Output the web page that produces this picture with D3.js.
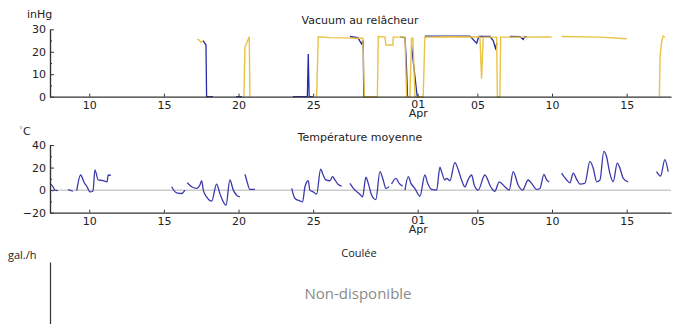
<!DOCTYPE html>
<html>
<head>
<meta charset="utf-8">
<title>Vacuum et température</title>
<script src="https://cdn.jsdelivr.net/npm/d3@7"></script>
<style>
	body { margin:0; background:#ffffff; }
	svg { display:block; }
	.tick text { font-family:"DejaVu Sans", sans-serif; font-size:11px; fill:#222; }
	.domain { stroke:#333; stroke-width:1.2; }
	.tick line { stroke:#333; }
	.title { font-family:"DejaVu Sans", sans-serif; font-size:11px; fill:#222; text-anchor:middle; }
	.unit { font-family:"DejaVu Sans", sans-serif; font-size:11px; fill:#222; }
	.vacblue { fill:none; stroke:#2a2aa8; stroke-width:1.3; }
	.vacgold { fill:none; stroke:#e8c03a; stroke-width:1.4; opacity:0.95; }
	.templine { fill:none; stroke:#3a3aac; stroke-width:1.3; }
	.zeroline { stroke:#cccccc; stroke-width:1.5; }
	.na { font-family:"Open Sans", sans-serif; font-size:15px; fill:#8a8a8a; text-anchor:middle; }
	.small { font-family:"Open Sans", sans-serif; font-size:11px; fill:#222; }
</style>
</head>
<body>
<div class="chart"></div>
<script>
// days are counted from March 1st (day 1); April 1st = day 32
var xDomainDays = [7.37, 48.97];
var tickDays = [10, 15, 20, 25, 32, 36, 41, 46];

// vacuum (inHg), blue sensor, segments of [day, value]
var vacuumBlue = [
	[[17.62,25],[17.82,23],[17.86,0],[18.29,0]],
	[[19.83,0],[20.23,0]],
	[[23.64,0],[24.61,0],[24.67,19],[24.73,0],[24.98,0]],
	[[27.46,26.8],[27.99,26.3],[28.24,23.5],[28.35,25],[28.39,0],[29.26,0]],
	[[30.83,26.5],[31.15,26.3],[31.22,18],[31.29,6],[31.32,0]],
	[[31.58,23],[31.97,0],[32.35,0]],
	[[32.48,27],[35.50,27],[35.95,23.8],[36.10,26.8],[36.84,26.8],[37.06,25],[37.21,21.5],[37.31,24]],
	[[38.18,26.8],[38.85,26.7],[39.07,25.5],[39.18,26.7],[39.32,26.7]]
];

// vacuum (inHg), gold sensor
var vacuumGold = [
	[[17.23,25.5],[17.35,25.3],[17.48,24.2],[17.62,24.8]],
	[[20.36,0],[20.43,22],[20.58,24.5],[20.72,26.7],[20.76,0]],
	[[25.23,0],[25.34,26.7],[26.12,26.3],[27.13,26.2],[27.80,26],[28.33,26],[28.43,0],[29.30,0],
	 [29.36,26.8],[29.81,26.5],[29.87,23],[30.34,23],[30.36,26.5],[31.15,26.5],[31.26,0],[31.48,0],
	 [31.59,26],[31.68,26],[31.82,0],[32.37,0],[32.48,26.5],[34.16,26.7],[36.17,26.6],[36.28,8],
	 [36.39,26.5],[37.29,26.5],[37.34,0],[37.51,0],[37.56,26.5],[40.97,26.6]],
	[[41.64,26.8],[44.21,26.5],[46.00,25.8]],
	[[48.19,0],[48.24,18],[48.33,24],[48.44,27],[48.56,26.5]]
];

// mean temperature (°C)
var temperature = [
	[[7.37,6],[7.57,3],[7.70,0],[7.90,-0.5]],
	[[8.59,0.5],[8.91,-1]],
	[[9.16,-0.5],[9.42,13.4],[9.65,7],[9.85,3],[10.05,-1.5],[10.25,-1],[10.38,18],[10.60,9],
	 [10.92,8.5],[11.19,7.4],[11.27,13.4],[11.45,13]],
	[[15.52,3],[15.85,-2.4],[16.19,-3],[16.41,0]],
	[[16.56,6.5],[16.86,3],[17.19,1.5],[17.41,4.5],[17.53,8.3],[17.64,0],[17.86,-6],[18.20,-9.8],
	 [18.53,5.4],[18.75,-3],[19.16,-13.4],[19.42,9],[19.65,0],[19.87,-4.5],[20.09,-6]],
	[[20.43,14],[20.54,9],[20.76,0.6],[21.10,0.6]],
	[[23.56,1.5],[23.78,-7.4],[24.11,-9.5],[24.29,-10.4],[24.45,3],[24.67,8.3],[24.78,0],[25.00,-1.5],
	 [25.23,-3.6],[25.50,18.5],[25.67,13.4],[25.85,9],[26.12,8.3],[26.30,12],[26.46,9],[26.68,5],[26.91,3.6]],
	[[27.46,6],[27.80,0],[28.13,-3.6],[28.31,-6],[28.53,11.4],[28.69,6],[28.92,-4.5],[29.20,-8.3],
	 [29.47,16.4],[29.69,9],[29.87,1.5],[30.09,3]],
	[[30.25,5.4],[30.54,10.5],[30.76,6],[30.99,3.6]],
	[[31.15,0],[31.37,12],[31.55,6],[31.81,1.5],[32.15,-5.4],[32.48,13.4],[32.67,6],[32.93,0.6],
	 [33.27,0],[33.49,20.3],[33.60,16.4],[33.82,9],[33.94,10.5],[34.16,8.3],[34.49,24.4],[34.72,18],
	 [34.94,9],[35.16,3],[35.39,9.6],[35.61,13.4],[35.79,4.5],[36.05,0],[36.50,13.4],[36.89,3],
	 [37.17,-1],[37.46,7.4],[37.84,3],[38.13,0],[38.40,16.4],[38.73,4.5],[39.03,0],[39.40,9],
	 [39.63,6],[39.97,0.6],[40.19,1.5],[40.46,14],[40.64,9],[40.81,7.4]],
	[[41.64,15],[41.98,9],[42.20,6.5],[42.42,15],[42.65,9.6],[42.87,5.4],[43.20,6],[43.54,25.4],
	 [43.76,19.4],[43.99,7.4],[44.21,9],[44.47,34.3],[44.65,29.8],[44.87,15],[45.10,7.4],[45.37,24],
	 [45.55,19.4],[45.77,10.5],[46.10,7.4]],
	[[48.00,16.4],[48.27,12.5],[48.56,27],[48.78,16.4]]
];

var vacuumTicks = [0, 10, 20, 30];
var vacuumMinor = [5, 15, 25];
var tempTicks = [-20, 0, 20, 40];
var tempMinor = [-10, 10, 30];

(function() {
	var W = 679, H = 324;
	var left = 50, right = 671;

	var dayToDate = function(d) {
		return new Date(Date.UTC(2014, 2, 1) + (d - 1) * 86400000);
	};

	var svg = d3.select(".chart").append("svg")
		.attr("width", W)
		.attr("height", H);

	var x = d3.scaleUtc()
		.domain(xDomainDays.map(dayToDate))
		.range([left, right]);

	var fmtDay = d3.utcFormat("%d");
	var fmtMonth = d3.utcFormat("%b");

	var drawXAxis = function(yPos) {
		var g = svg.append("g")
			.attr("transform", "translate(0," + yPos + ")")
			.call(d3.axisBottom(x)
				.tickValues(tickDays.map(dayToDate))
				.tickFormat(fmtDay)
				.tickSize(-3)
				.tickSizeOuter(0)
				.tickPadding(5));
		// first day of month gets the month name underneath
		g.selectAll(".tick text").each(function(d) {
			if (d.getUTCDate() !== 1) return;
			var t = d3.select(this).text(null).attr("dy", null);
			t.append("tspan").attr("x", 0).attr("dy", "0.55em").text(fmtDay(d));
			t.append("tspan").attr("x", 0).attr("dy", "0.85em").text(fmtMonth(d));
		});
	};

	var drawYAxis = function(y, major, minor) {
		svg.append("g")
			.attr("transform", "translate(" + left + ",0)")
			.call(d3.axisLeft(y).tickValues(minor).tickFormat("").tickSize(-2).tickSizeOuter(0));
		svg.append("g")
			.attr("transform", "translate(" + left + ",0)")
			.call(d3.axisLeft(y).tickValues(major).tickSize(-4).tickSizeOuter(0).tickPadding(4));
	};

	// ---- panel 1: vacuum
	var y1 = d3.scaleLinear().domain([0, 30]).range([96.7, 29.3]);
	var line1 = d3.line()
		.x(function(d) { return x(dayToDate(d[0])); })
		.y(function(d) { return y1(d[1]); });

	svg.append("text").attr("class", "title").attr("x", 360).attr("y", 24).text("Vacuum au relâcheur");
	svg.append("text").attr("class", "unit").attr("x", 27).attr("y", 18).text("inHg");

	svg.selectAll(".vacblue").data(vacuumBlue).enter()
		.append("path").attr("class", "vacblue").attr("d", line1);
	svg.selectAll(".vacgold").data(vacuumGold).enter()
		.append("path").attr("class", "vacgold").attr("d", line1);

	drawYAxis(y1, vacuumTicks, vacuumMinor);
	drawXAxis(y1(0));

	// ---- panel 2: temperature
	var y2 = d3.scaleLinear().domain([-20, 40]).range([212.7, 145]);
	var line2 = d3.line()
		.curve(d3.curveMonotoneX)
		.x(function(d) { return x(dayToDate(d[0])); })
		.y(function(d) { return y2(d[1]); });

	svg.append("text").attr("class", "title").attr("x", 360).attr("y", 141).text("Température moyenne");
	var u = svg.append("text").attr("class", "unit").attr("x", 19).attr("y", 135);
	u.append("tspan").attr("fill", "#999").attr("font-size", "8px").attr("dy", "-2").text("°");
	u.append("tspan").attr("dy", "2").text("C");

	svg.append("line").attr("class", "zeroline")
		.attr("x1", left).attr("x2", right)
		.attr("y1", y2(0)).attr("y2", y2(0));

	svg.selectAll(".templine").data(temperature).enter()
		.append("path").attr("class", "templine").attr("d", line2);

	drawYAxis(y2, tempTicks, tempMinor);
	drawXAxis(y2(-20));

	// ---- panel 3: flow, no data
	var y3 = d3.scaleLinear().domain([0, 1]).range([H, 262]);
	svg.append("g")
		.attr("transform", "translate(" + left + ",0)")
		.call(d3.axisLeft(y3).tickValues([]).tickSizeOuter(0));
	svg.append("text").attr("class", "small").attr("x", 8).attr("y", 259).text("gal./h");
	svg.append("text").attr("class", "small").attr("x", 359).attr("y", 257).attr("text-anchor", "middle").text("Coulée");
	svg.append("text").attr("class", "na").attr("x", 358).attr("y", 299).text("Non-disponible");
})();
</script>
</body>
</html>
